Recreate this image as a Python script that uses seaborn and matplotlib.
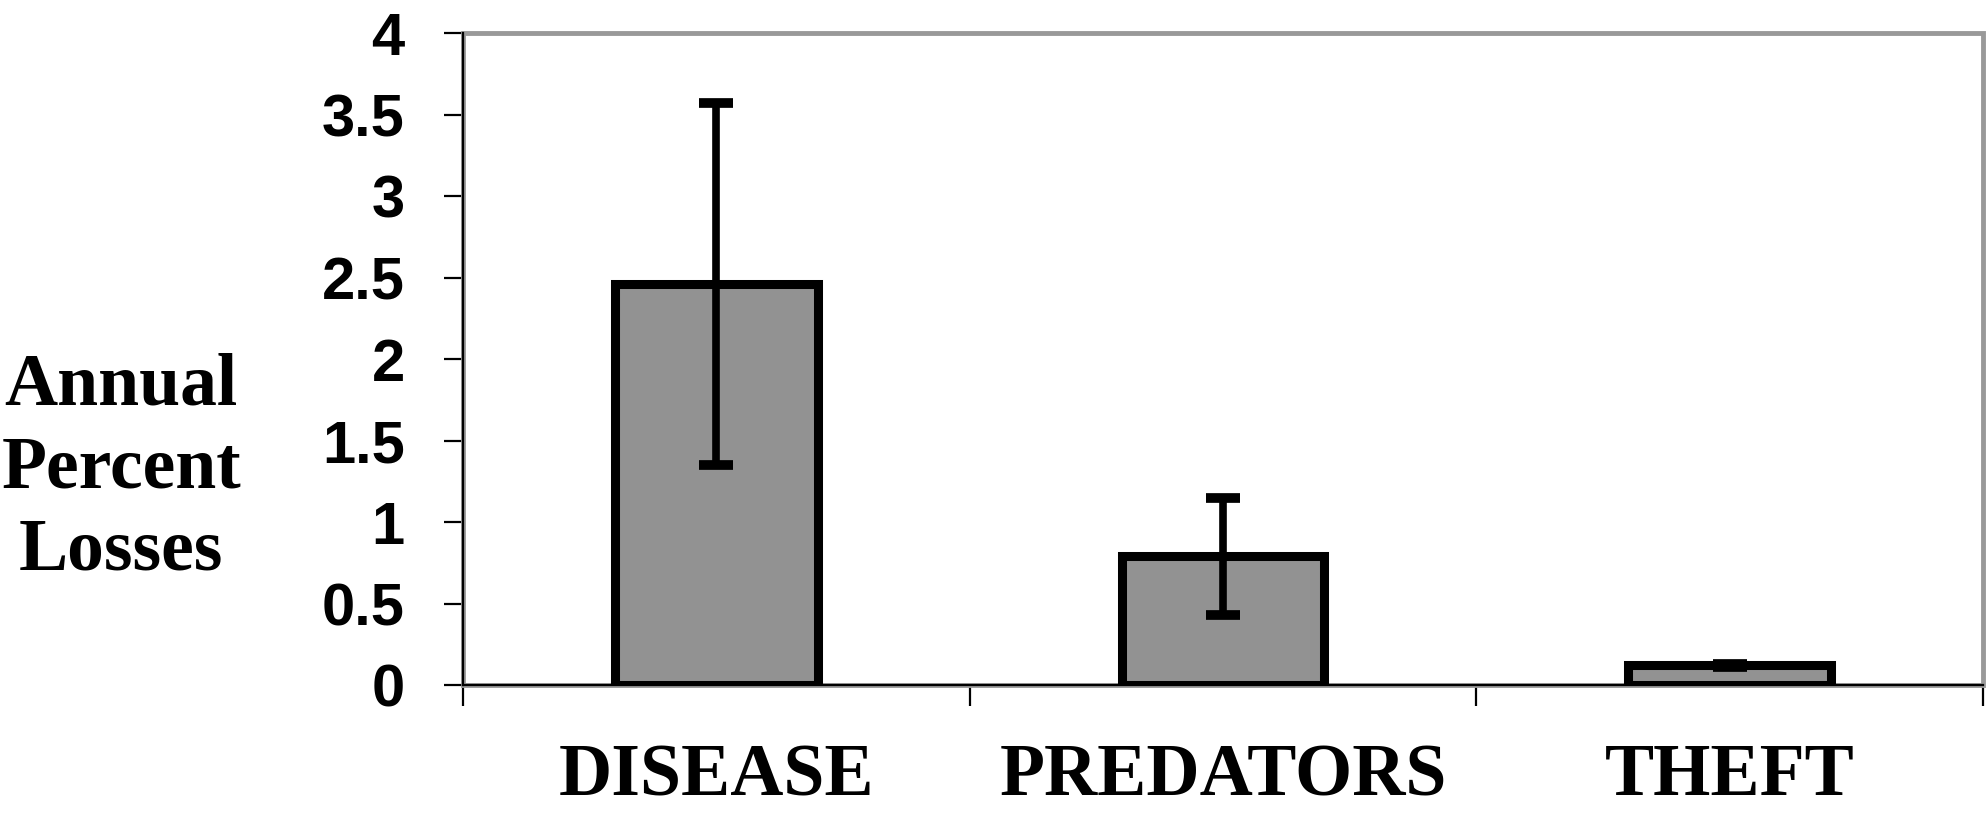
import numpy as np
import pandas as pd
import seaborn as sns
from matplotlib import pyplot as plt
from matplotlib.patches import Rectangle

# %% Data
Causes = ['DISEASE', 'PREDATORS', 'THEFT']
Losses = [2.46, 0.79, 0.12]
LossErr = [1.11, 0.36, 0.01]
YTicks = [0, 0.5, 1, 1.5, 2, 2.5, 3, 3.5, 4]
YTickLabels = ['0', '0.5', '1', '1.5', '2', '2.5', '3', '3.5', '4']

dfData = pd.DataFrame({'Cause': Causes, 'Loss': Losses, 'Err': LossErr})

# %% Figure
sns.set_style('white')
plt.rcParams['font.family'] = ['Liberation Serif', 'DejaVu Serif']
plt.rcParams['text.color'] = 'black'
plt.rcParams['xtick.color'] = 'black'
plt.rcParams['ytick.color'] = 'black'
plt.rcParams['xtick.labelcolor'] = 'black'
plt.rcParams['ytick.labelcolor'] = 'black'

fig = plt.figure(figsize=(19.88, 8.19), dpi=100)
ax = fig.add_axes([0.2329, 0.1636, 0.7646, 0.7961])

sns.barplot(data=dfData, x='Cause', y='Loss', ax=ax,
            color='#929292', saturation=1, width=0.4,
            edgecolor='black', linewidth=6.5, errorbar=None, zorder=3)
ax.errorbar(x=np.arange(len(Causes)), y=dfData['Loss'], yerr=dfData['Err'],
            fmt='none', ecolor='black', elinewidth=5.5,
            capsize=12, capthick=7, zorder=4)

ax.set_xlim(-0.5, len(Causes) - 0.5)
ax.set_ylim(0, 4)

# grey plot-area frame
ax.add_patch(Rectangle((0, 0), 1, 1, transform=ax.transAxes, fill=False,
                       edgecolor='#999999', linewidth=3.5, clip_on=False,
                       zorder=1))
for side in ('top', 'right'):
    ax.spines[side].set_visible(False)
for side in ('left', 'bottom'):
    ax.spines[side].set_color('black')
    ax.spines[side].set_linewidth(1.6)
    ax.spines[side].set_zorder(5)

# y ticks
ax.set_yticks(YTicks)
ax.set_yticklabels(YTickLabels, family=['Liberation Sans', 'DejaVu Sans'],
                   fontweight='bold', fontsize=43, color='black')
ax.tick_params(axis='y', which='major', left=True, length=14, width=1.6,
               pad=28, color='black')

# x ticks: marks at category boundaries, labels at centres
ax.set_xticks(np.arange(len(Causes) + 1) - 0.5)
ax.set_xticklabels([])
ax.set_xticks(np.arange(len(Causes)), minor=True)
ax.set_xticklabels(Causes, minor=True, fontweight='bold', fontsize=53,
                   color='black')
ax.tick_params(axis='x', which='major', bottom=True, length=15, width=1.6,
               color='black')
ax.tick_params(axis='x', which='minor', bottom=True, length=0, pad=42)
ax.set_xlabel('')
ax.set_ylabel('')

fig.text(0.061, 0.427, 'Annual\nPercent\nLosses', ha='center', va='center',
         fontsize=53, fontweight='bold', linespacing=1.28, color='black')

fig.savefig('out.png', dpi=100)
